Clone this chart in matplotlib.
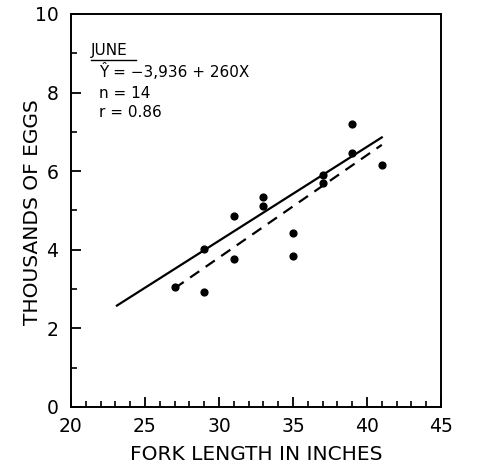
import matplotlib
matplotlib.use("Agg")
import matplotlib.pyplot as plt
from matplotlib.ticker import MultipleLocator

# Data
fork_length = [27, 29, 29, 31, 31, 33, 33, 35, 35, 37, 37, 39, 39, 41]
eggs_thousands = [3.05, 4.01, 2.92, 4.86, 3.77, 5.35, 5.11, 4.44, 3.85, 5.90, 5.71, 7.21, 6.47, 6.15]

solid_x = [23.1, 41.0]
solid_y = [2.58, 6.86]
dashed_x = [27.0, 41.0]
dashed_y = [3.02, 6.67]

x_ticks = [20, 25, 30, 35, 40, 45]
y_ticks = [0, 2, 4, 6, 8, 10]

plt.rcParams['font.family'] = ['DejaVu Sans']

fig = plt.figure(figsize=(4.81, 4.68), dpi=100)
ax = fig.add_axes([71/481, 61/468, 370/481, 393/468])

ax.scatter(fork_length, eggs_thousands, s=24, color='black', zorder=3)
ax.plot(solid_x, solid_y, color='black', lw=1.6)
ax.plot(dashed_x, dashed_y, color='black', lw=1.6, linestyle=(0, (5, 3.5)))

ax.set_xlim(20, 45)
ax.set_ylim(0, 10)
ax.set_xticks(x_ticks)
ax.set_yticks(y_ticks)
ax.xaxis.set_minor_locator(MultipleLocator(1))
ax.yaxis.set_minor_locator(MultipleLocator(1))
ax.tick_params(which='major', direction='in', length=7, width=1.3, labelsize=13.5)
ax.tick_params(axis='x', which='major', pad=7)
ax.tick_params(axis='y', which='major', pad=9)
ax.tick_params(which='minor', direction='in', length=4, width=1.2)
for s in ax.spines.values():
    s.set_linewidth(1.4)

ax.set_xlabel('FORK LENGTH IN INCHES', fontsize=14.5)
ax.set_ylabel('THOUSANDS OF EGGS', fontsize=14.5)
ax.xaxis.set_label_coords(0.5, (407-445)/393)
ax.yaxis.set_label_coords((42-71)/370, (407-212)/393)

tr = ax.transAxes
fs = 11
ax.text((91-71)/370, (407-55)/393, 'JUNE', transform=tr, fontsize=fs, va='baseline', ha='left')
ax.plot([(91-71)/370, (136-71)/370], [(407-59.5)/393]*2, transform=tr, color='black', lw=1.0)
ax.text((99-71)/370, (407-77)/393, 'Ŷ = −3,936 + 260X', transform=tr, fontsize=fs, va='baseline', ha='left')
ax.text((99-71)/370, (407-98)/393, 'n = 14', transform=tr, fontsize=fs, va='baseline', ha='left')
ax.text((99-71)/370, (407-117)/393, 'r = 0.86', transform=tr, fontsize=fs, va='baseline', ha='left')

fig.savefig('out.png', dpi=100)
